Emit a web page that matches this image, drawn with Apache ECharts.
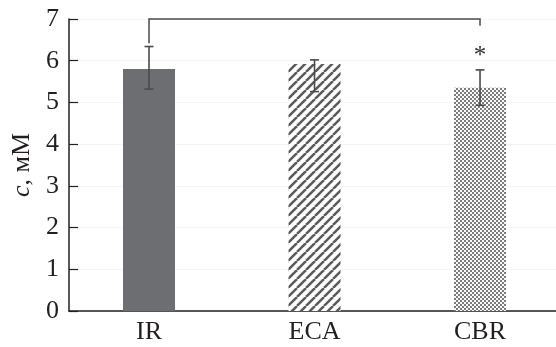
<!DOCTYPE html>
<html>
<head>
<meta charset="utf-8">
<script src="https://cdn.jsdelivr.net/npm/echarts@6/dist/echarts.min.js"></script>
<style>html,body{margin:0;padding:0;background:#fff;}#c{width:556px;height:347px;}</style>
</head>
<body>
<div id="c"></div>
<script>
const categories = ['IR', 'ECA', 'CBR'];
const means = [5.80, 5.92, 5.35];
const errLow = [5.32, 5.26, 4.93];
const errHigh = [6.34, 6.02, 5.78];
const yTicks = [0, 1, 2, 3, 4, 5, 6, 7];
// significance bracket: [leftCat, rightCat, level, leftBottom, rightBottom]
const bracket = [0, 2, 7, 6.42, 6.84];
const starMark = [2, 6.1, '*'];

function hatchCanvas() {
  const s = 9, c = document.createElement('canvas');
  c.width = s; c.height = s;
  const g = c.getContext('2d');
  g.fillStyle = '#fff'; g.fillRect(0, 0, s, s);
  g.strokeStyle = '#5a5a5a'; g.lineWidth = 2.5;
  for (let k = -1; k <= 1; k++) {
    g.beginPath(); g.moveTo(k * s, s); g.lineTo(k * s + s, 0); g.stroke();
  }
  return c;
}
function checkerCanvas() {
  const s = 4, h = 2, c = document.createElement('canvas');
  c.width = s; c.height = s;
  const g = c.getContext('2d');
  g.fillStyle = '#fafafa'; g.fillRect(0, 0, s, s);
  g.fillStyle = '#7c7c7c';
  g.fillRect(0, 0, h, h); g.fillRect(h, h, h, h);
  return c;
}
const fills = [
  '#6d6e71',
  { image: hatchCanvas(), repeat: 'repeat' },
  { image: checkerCanvas(), repeat: 'repeat' }
];

const chart = echarts.init(document.getElementById('c'), null, { renderer: 'canvas' });
const font = 'Liberation Serif';
const txt = '#231f20';
const fs = 26;

chart.setOption({
  animation: false,
  grid: { left: 69, right: 0, top: 19, bottom: 36 },
  xAxis: {
    type: 'value', min: -0.4834, max: 2.459,
    splitLine: { show: false },
    axisLine: { show: true, onZero: false, lineStyle: { color: '#231f20', width: 1.5 } },
    axisTick: { show: false },
    axisLabel: {
      customValues: [0, 1, 2],
      formatter: v => categories[Math.round(v)],
      fontFamily: font, fontSize: fs, color: txt, margin: 8
    }
  },
  yAxis: {
    type: 'value', min: 0, max: 7, interval: 1,
    name: '{i|c}, мМ', nameLocation: 'middle', nameGap: 33,
    nameTextStyle: {
      fontFamily: font, fontSize: fs, color: txt,
      rich: { i: { fontFamily: font, fontSize: fs, fontStyle: 'italic', color: txt } }
    },
    axisLine: { show: true, onZero: false, lineStyle: { color: '#231f20', width: 1.5 } },
    axisTick: { show: true, inside: true, length: 9, lineStyle: { color: '#231f20', width: 1.2 } },
    axisLabel: { fontFamily: font, fontSize: fs, color: txt, margin: 10,
      formatter: v => yTicks.includes(v) ? String(v) : '' },
    splitLine: { show: true, lineStyle: { color: '#f4f4f4', width: 1 } }
  },
  series: [
    {
      type: 'bar', barWidth: 52,
      data: means.map((v, i) => ({ value: [i, v], itemStyle: { color: fills[i] } }))
    },
    {
      type: 'custom',
      data: categories.map((c, i) => [i, errLow[i], errHigh[i]]),
      renderItem: (params, api) => {
        const lo = api.coord([api.value(0), api.value(1)]);
        const hi = api.coord([api.value(0), api.value(2)]);
        const hw = 4.5;
        const st = { stroke: '#4a4a4a', lineWidth: 1.6 };
        return { type: 'group', children: [
          { type: 'line', shape: { x1: lo[0], y1: lo[1], x2: hi[0], y2: hi[1] }, style: st },
          { type: 'line', shape: { x1: lo[0] - hw, y1: lo[1], x2: lo[0] + hw, y2: lo[1] }, style: st },
          { type: 'line', shape: { x1: hi[0] - hw, y1: hi[1], x2: hi[0] + hw, y2: hi[1] }, style: st }
        ]};
      },
      z: 5
    },
    {
      type: 'custom',
      data: [bracket],
      renderItem: (params, api) => {
        const a = api.coord([api.value(0), api.value(3)]);
        const b = api.coord([api.value(0), api.value(2)]);
        const c = api.coord([api.value(1), api.value(2)]);
        const d = api.coord([api.value(1), api.value(4)]);
        return { type: 'polyline', shape: { points: [a, b, c, d] },
          style: { stroke: '#4a4a4a', lineWidth: 1.5, fill: null } };
      },
      z: 5
    },
    {
      type: 'custom',
      data: [starMark],
      renderItem: (params, api) => {
        const p = api.coord([api.value(0), api.value(1)]);
        return { type: 'text', x: p[0], y: p[1],
          style: { text: starMark[2], fontFamily: font, fontSize: 25, fill: '#333',
            align: 'center', verticalAlign: 'middle' } };
      },
      z: 5
    }
  ]
});
</script>
</body>
</html>
